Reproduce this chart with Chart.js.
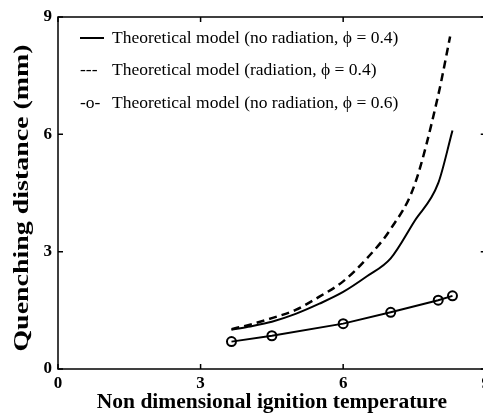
<!DOCTYPE html>
<html lang="en">
<head>
    <meta charset="UTF-8">
    <title>Quenching distance vs ignition temperature</title>
    <script src="https://cdn.jsdelivr.net/npm/chart.js"></script>
    <style>
        html, body { margin: 0; padding: 0; background: #fff; overflow: hidden; }
        #wrap { width: 494px; height: 417px; }
    </style>
</head>
<body>
    <div id="wrap">
        <canvas id="myChart"></canvas>
    </div>

    <script>
        // Values
        const xTicks = [0, 3, 6, 9];
        const yTicks = [0, 3, 6, 9];

        // no radiation, phi = 0.4 (solid)
        const tempNoRad04 = [3.65, 4.0, 4.5, 5.0, 5.5, 6.0, 6.5, 7.0, 7.5, 8.0, 8.3];
        const qdNoRad04   = [1.0, 1.08, 1.21, 1.41, 1.67, 1.97, 2.37, 2.83, 3.78, 4.75, 6.1];

        // radiation, phi = 0.4 (dashed)
        const tempRad04 = [3.65, 4.0, 4.5, 5.0, 5.5, 6.0, 6.5, 7.0, 7.5, 8.0, 8.25];
        const qdRad04   = [1.02, 1.12, 1.3, 1.51, 1.85, 2.24, 2.83, 3.58, 4.7, 7.0, 8.5];

        // no radiation, phi = 0.6 (line with circles)
        const tempNoRad06 = [3.65, 4.5, 6.0, 7.0, 8.0, 8.3];
        const qdNoRad06   = [0.7, 0.85, 1.16, 1.45, 1.76, 1.87];

        const yTitle = 'Quenching distance (mm)';
        const legendItems = [
            { sample: 'line', text: 'Theoretical model (no radiation, \u03d5 = 0.4)' },
            { sample: '---', text: 'Theoretical model (radiation, \u03d5 = 0.4)' },
            { sample: '-o-', text: 'Theoretical model (no radiation, \u03d5 = 0.6)' }
        ];

        const toPoints = (xs, ys) => xs.map((x, i) => ({ x: x, y: ys[i] }));

        // box, inward ticks, y title and the text legend
        const framePlugin = {
            id: 'frame',
            afterDraw(chart) {
                const ctx = chart.ctx;
                const a = chart.chartArea;
                const xs = chart.scales.x;
                const ys = chart.scales.y;
                ctx.save();
                ctx.strokeStyle = '#000';
                ctx.lineWidth = 1.5;
                ctx.strokeRect(a.left, a.top, a.right - a.left, a.bottom - a.top);
                const tl = 5;
                ctx.beginPath();
                xTicks.forEach(v => {
                    const px = xs.getPixelForValue(v);
                    ctx.moveTo(px, a.bottom); ctx.lineTo(px, a.bottom - tl);
                    ctx.moveTo(px, a.top); ctx.lineTo(px, a.top + tl);
                });
                yTicks.forEach(v => {
                    const py = ys.getPixelForValue(v);
                    ctx.moveTo(a.left, py); ctx.lineTo(a.left + tl, py);
                    ctx.moveTo(a.right, py); ctx.lineTo(a.right - tl, py);
                });
                ctx.stroke();

                ctx.fillStyle = '#000';

                // y title, stretched along its length like the scanned figure
                ctx.save();
                ctx.translate(23, 198);
                ctx.rotate(-Math.PI / 2);
                ctx.scale(1.33, 1);
                ctx.font = 'bold 21px "Liberation Serif", "Times New Roman", serif';
                ctx.textAlign = 'center';
                ctx.textBaseline = 'middle';
                ctx.fillText(yTitle, 0, 0);
                ctx.restore();

                // legend
                ctx.font = '17.5px "Liberation Serif", "Times New Roman", serif';
                ctx.textBaseline = 'middle';
                legendItems.forEach((item, i) => {
                    const y = 38 + i * 32.5;
                    if (item.sample === 'line') {
                        ctx.lineWidth = 2;
                        ctx.beginPath();
                        ctx.moveTo(80, y); ctx.lineTo(104, y);
                        ctx.stroke();
                    } else {
                        ctx.fillText(item.sample, 80, y);
                    }
                    ctx.fillText(item.text, 112, y);
                });
                ctx.restore();
            }
        };

        const tickFont = { family: '"Liberation Serif", "Times New Roman", serif', size: 17, weight: 'bold' };
        const titleFont = { family: '"Liberation Serif", "Times New Roman", serif', size: 21.5, weight: 'bold' };

        const ctx = document.getElementById('myChart').getContext('2d');
        window.myChart = new Chart(ctx, {
            type: 'line',
            data: {
                datasets: [
                    {
                        label: 'Theoretical model (no radiation, \u03d5 = 0.4)',
                        data: toPoints(tempNoRad04, qdNoRad04),
                        borderColor: '#000',
                        borderWidth: 2,
                        pointRadius: 0,
                        cubicInterpolationMode: 'monotone',
                        fill: false
                    },
                    {
                        label: 'Theoretical model (radiation, \u03d5 = 0.4)',
                        data: toPoints(tempRad04, qdRad04),
                        borderColor: '#000',
                        borderWidth: 2.5,
                        borderDash: [8, 5],
                        pointRadius: 0,
                        cubicInterpolationMode: 'monotone',
                        fill: false
                    },
                    {
                        label: 'Theoretical model (no radiation, \u03d5 = 0.6)',
                        data: toPoints(tempNoRad06, qdNoRad06),
                        borderColor: '#000',
                        borderWidth: 2,
                        pointRadius: 4.5,
                        pointBorderWidth: 2,
                        pointBackgroundColor: 'rgba(255,255,255,0)',
                        pointBorderColor: '#000',
                        tension: 0,
                        fill: false
                    }
                ]
            },
            options: {
                responsive: true,
                maintainAspectRatio: false,
                animation: false,
                layout: { padding: { top: 17, right: 0, left: 0, bottom: 0 } },
                plugins: {
                    legend: { display: false },
                    tooltip: { enabled: false }
                },
                scales: {
                    x: {
                        type: 'linear',
                        min: 0,
                        max: 9,
                        afterBuildTicks: (scale) => { scale.ticks = xTicks.map(v => ({ value: v })); },
                        afterFit: (scale) => { scale.height = 48; },
                        grid: { display: false, drawTicks: false },
                        border: { display: false },
                        ticks: { color: '#000', font: tickFont, padding: 4, maxRotation: 0 },
                        title: {
                            display: true,
                            text: 'Non dimensional ignition temperature',
                            color: '#000',
                            font: titleFont,
                            padding: { top: 0, bottom: 2 }
                        }
                    },
                    y: {
                        type: 'linear',
                        min: 0,
                        max: 9,
                        afterBuildTicks: (scale) => { scale.ticks = yTicks.map(v => ({ value: v })); },
                        afterFit: (scale) => { scale.width = 58; },
                        grid: { display: false, drawTicks: false },
                        border: { display: false },
                        ticks: { color: '#000', font: tickFont, padding: 6 }
                    }
                }
            },
            plugins: [framePlugin]
        });
    </script>
</body>
</html>
